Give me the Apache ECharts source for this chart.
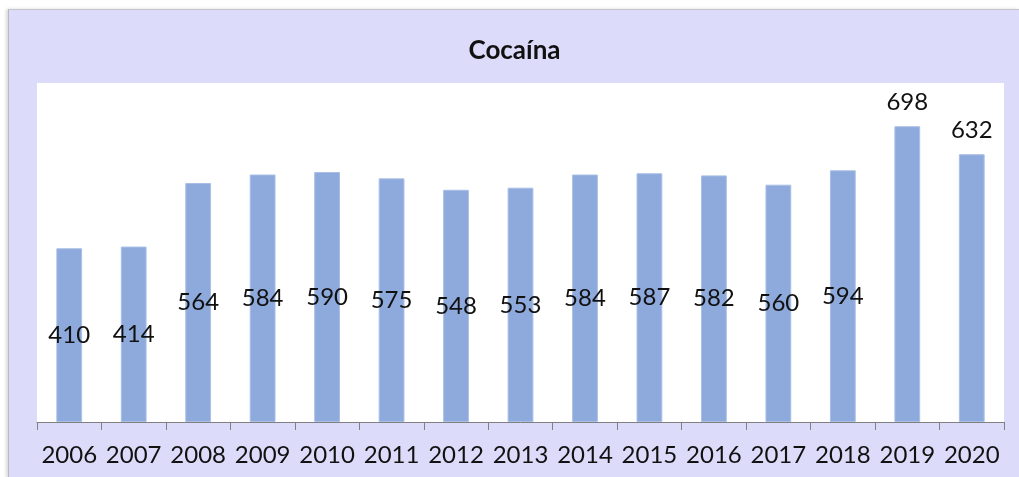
<!DOCTYPE html>
<html>
<head>
<meta charset="utf-8">
<script src="https://cdn.jsdelivr.net/npm/echarts@6/dist/echarts.min.js"></script>
<style>
  html, body { margin: 0; padding: 0; background: #fff; }
  #frame {
    position: absolute; left: 8px; top: 9px; width: 1011px; height: 468px;
    background: #dcdcfa; border-left: 1px solid #b8b8c4; border-top: 1px solid #c4c4cc;
    box-shadow: -2px 0 3px rgba(0,0,0,0.15);
  }
  #main { width: 1011px; height: 468px; }
</style>
</head>
<body>
<div id="frame"><div id="main"></div></div>
<script>
var years = ['2006', '2007', '2008', '2009', '2010', '2011', '2012', '2013', '2014', '2015', '2016', '2017', '2018', '2019', '2020']
var cases = [410, 414, 564, 584, 590, 575, 548, 553, 584, 587, 582, 560, 594, 698, 632]
var labelAbove = ['2019', '2020']

var myChart = echarts.init(document.getElementById('main'))
myChart.setOption({
  animation: false,
  title: {
    text: 'Cocaína',
    left: 'center',
    top: 23,
    textStyle: { fontFamily: 'Lato', fontWeight: 'bold', fontSize: 26, color: '#111' }
  },
  grid: { left: 28, right: 16, top: 73, bottom: 56, backgroundColor: '#fff', show: true, borderWidth: 0 },
  xAxis: {
    type: 'category',
    data: years,
    axisLine: { lineStyle: { color: '#808080' } },
    axisTick: { show: true, length: 8, interval: 0, lineStyle: { color: '#808080', width: 1 } },
    axisLabel: { interval: 0, fontFamily: 'Lato', fontSize: 24, color: '#111', margin: 21 }
  },
  yAxis: {
    type: 'value',
    min: 0,
    max: 800,
    show: false,
    splitLine: { show: false }
  },
  series: [{
    type: 'bar',
    barWidth: '40%',
    data: cases.map(function (v, i) {
      var above = labelAbove.indexOf(years[i]) >= 0
      return { value: v, label: { position: above ? 'top' : 'inside', distance: 12 } }
    }),
    itemStyle: { color: '#8eaadc', borderColor: '#a9bfe6', borderWidth: 1 },
    label: { show: true, fontFamily: 'Lato', fontSize: 24, color: '#111' }
  }]
})
</script>
</body>
</html>
